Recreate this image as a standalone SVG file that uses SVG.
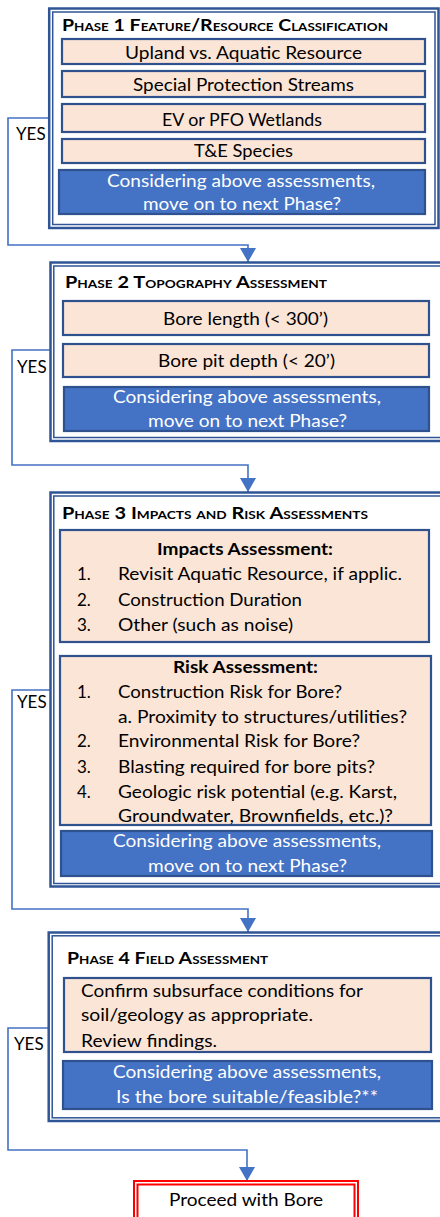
<svg xmlns="http://www.w3.org/2000/svg" width="440" height="1217" viewBox="0 0 440 1217">
<defs>
<style>
text{font-family:Lato,"Liberation Sans",sans-serif;font-size:17px;fill:#000}
.ttl{font-weight:bold;font-variant:small-caps;font-size:17.5px}
.c{text-anchor:middle}
.w{fill:#fff}
.b{font-weight:bold}
.po{fill:#fff;stroke:#2F5597;stroke-width:2.5}
.pi{fill:none;stroke:#2F5597;stroke-width:1.5}
.pe{fill:#FBE5D6;stroke:#2F528F;stroke-width:2.2}
.bl{fill:#4472C4;stroke:#2F528F;stroke-width:2.2}
.cn{fill:none;stroke:#4472C4;stroke-width:1.6}
</style>
<marker id="ah" markerUnits="userSpaceOnUse" markerWidth="14" markerHeight="16" viewBox="0 0 14 16" refX="14" refY="8" orient="auto">
<path d="M0,0 L14,8 L0,16 z" fill="#4472C4"/>
</marker>
</defs>
<g id="connectors">
<path class="cn" d="M49,118 H8 V245 H248 V262" marker-end="url(#ah)"/>
<path class="cn" d="M51,350 H12 V465 H248 V492" marker-end="url(#ah)"/>
<path class="cn" d="M51,690 H12 V909 H248 V932" marker-end="url(#ah)"/>
<path class="cn" d="M49,1028 H8 V1150 H247 V1181" marker-end="url(#ah)"/>
</g>
<g id="yes-labels">
<text x="16" y="140">YES</text>
<text x="17" y="373">YES</text>
<text x="17" y="708">YES</text>
<text x="14" y="1050">YES</text>
</g>
<g id="phase1">
<rect class="po" x="49.2" y="8.5" width="389.3" height="219.5"/>
<rect class="pi" x="52.7" y="12" width="382.3" height="212.5"/>
<text class="ttl" x="62" y="31" textLength="326" lengthAdjust="spacingAndGlyphs">Phase 1 Feature/Resource Classification</text>
<rect class="pe" x="62" y="39" width="363" height="25"/>
<text class="c" x="243.5" y="59" textLength="237" lengthAdjust="spacingAndGlyphs">Upland vs. Aquatic Resource</text>
<rect class="pe" x="62" y="71" width="363" height="26"/>
<text class="c" x="243.5" y="91" textLength="221" lengthAdjust="spacingAndGlyphs">Special Protection Streams</text>
<rect class="pe" x="62" y="104" width="363" height="28"/>
<text class="c" x="242" y="126" textLength="160" lengthAdjust="spacingAndGlyphs">EV or PFO Wetlands</text>
<rect class="pe" x="62" y="139" width="363" height="24"/>
<text class="c" x="243.5" y="157" textLength="99" lengthAdjust="spacingAndGlyphs">T&amp;E Species</text>
<rect class="bl" x="59" y="170" width="366" height="44"/>
<text class="c w" x="241" y="187" textLength="268" lengthAdjust="spacingAndGlyphs">Considering above assessments,</text>
<text class="c w" x="242" y="210" textLength="198" lengthAdjust="spacingAndGlyphs">move on to next Phase?</text>
</g>
<g id="phase2">
<rect class="po" x="50.5" y="262.5" width="400" height="178.5"/>
<rect class="pi" x="53.8" y="266" width="400" height="171.5"/>
<text class="ttl" x="65" y="288" textLength="262" lengthAdjust="spacingAndGlyphs">Phase 2 Topography Assessment</text>
<rect class="pe" x="63" y="301" width="366" height="34"/>
<text class="c" x="245.5" y="325" textLength="165" lengthAdjust="spacingAndGlyphs">Bore length (&lt; 300’)</text>
<rect class="pe" x="63" y="344" width="366" height="33"/>
<text class="c" x="246.5" y="367" textLength="177" lengthAdjust="spacingAndGlyphs">Bore pit depth (&lt; 20’)</text>
<rect class="bl" x="64" y="387" width="365" height="44"/>
<text class="c w" x="247" y="403" textLength="268" lengthAdjust="spacingAndGlyphs">Considering above assessments,</text>
<text class="c w" x="247.5" y="427" textLength="199" lengthAdjust="spacingAndGlyphs">move on to next Phase?</text>
</g>
<g id="phase3">
<rect class="po" x="50.5" y="492.5" width="400" height="394"/>
<rect class="pi" x="53.8" y="496" width="400" height="387.5"/>
<text class="ttl" x="62" y="519" textLength="306" lengthAdjust="spacingAndGlyphs">Phase 3 Impacts and Risk Assessments</text>
<rect class="pe" x="60" y="530" width="369" height="112"/>
<text class="c b" x="245" y="555" textLength="176" lengthAdjust="spacingAndGlyphs">Impacts Assessment:</text>
<text x="77" y="580">1.</text>
<text x="118" y="580" textLength="284" lengthAdjust="spacingAndGlyphs">Revisit Aquatic Resource, if applic.</text>
<text x="77" y="606">2.</text>
<text x="118" y="606" textLength="184" lengthAdjust="spacingAndGlyphs">Construction Duration</text>
<text x="77" y="631">3.</text>
<text x="118" y="631" textLength="175" lengthAdjust="spacingAndGlyphs">Other (such as noise)</text>
<rect class="pe" x="60" y="656" width="371" height="169"/>
<text class="c b" x="245.5" y="673" textLength="145" lengthAdjust="spacingAndGlyphs">Risk Assessment:</text>
<text x="77" y="698">1.</text>
<text x="118" y="698" textLength="224" lengthAdjust="spacingAndGlyphs">Construction Risk for Bore?</text>
<text x="118" y="723" textLength="289" lengthAdjust="spacingAndGlyphs">a. Proximity to structures/utilities?</text>
<text x="77" y="747">2.</text>
<text x="118" y="747" textLength="242" lengthAdjust="spacingAndGlyphs">Environmental Risk for Bore?</text>
<text x="77" y="773">3.</text>
<text x="118" y="773" textLength="257" lengthAdjust="spacingAndGlyphs">Blasting required for bore pits?</text>
<text x="77" y="798">4.</text>
<text x="118" y="798" textLength="279" lengthAdjust="spacingAndGlyphs">Geologic risk potential (e.g. Karst,</text>
<text x="118" y="822" textLength="275" lengthAdjust="spacingAndGlyphs">Groundwater, Brownfields, etc.)?</text>
<rect class="bl" x="61" y="831" width="371" height="45"/>
<text class="c w" x="247" y="847" textLength="268" lengthAdjust="spacingAndGlyphs">Considering above assessments,</text>
<text class="c w" x="247.5" y="872" textLength="199" lengthAdjust="spacingAndGlyphs">move on to next Phase?</text>
</g>
<g id="phase4">
<rect class="po" x="48.7" y="932.5" width="400" height="188.5"/>
<rect class="pi" x="52.2" y="935.8" width="400" height="182"/>
<text class="ttl" x="67" y="964" textLength="201" lengthAdjust="spacingAndGlyphs">Phase 4 Field Assessment</text>
<rect class="pe" x="64" y="978" width="367" height="74"/>
<text x="81" y="997" textLength="282" lengthAdjust="spacingAndGlyphs">Confirm subsurface conditions for</text>
<text x="81" y="1021" textLength="232" lengthAdjust="spacingAndGlyphs">soil/geology as appropriate.</text>
<text x="81" y="1047" textLength="136" lengthAdjust="spacingAndGlyphs">Review findings.</text>
<rect class="bl" x="63" y="1061" width="369" height="48"/>
<text class="c w" x="247" y="1078" textLength="268" lengthAdjust="spacingAndGlyphs">Considering above assessments,</text>
<text class="c w" x="247" y="1103" textLength="262" lengthAdjust="spacingAndGlyphs">Is the bore suitable/feasible?**</text>
</g>
<g id="proceed">
<rect x="134" y="1181" width="224" height="50" fill="#fff" stroke="#FF0000" stroke-width="2"/>
<rect x="137.5" y="1184.5" width="217" height="50" fill="none" stroke="#FF0000" stroke-width="2"/>
<text class="c" x="246" y="1206" textLength="154" lengthAdjust="spacingAndGlyphs">Proceed with Bore</text>
</g>
</svg>
